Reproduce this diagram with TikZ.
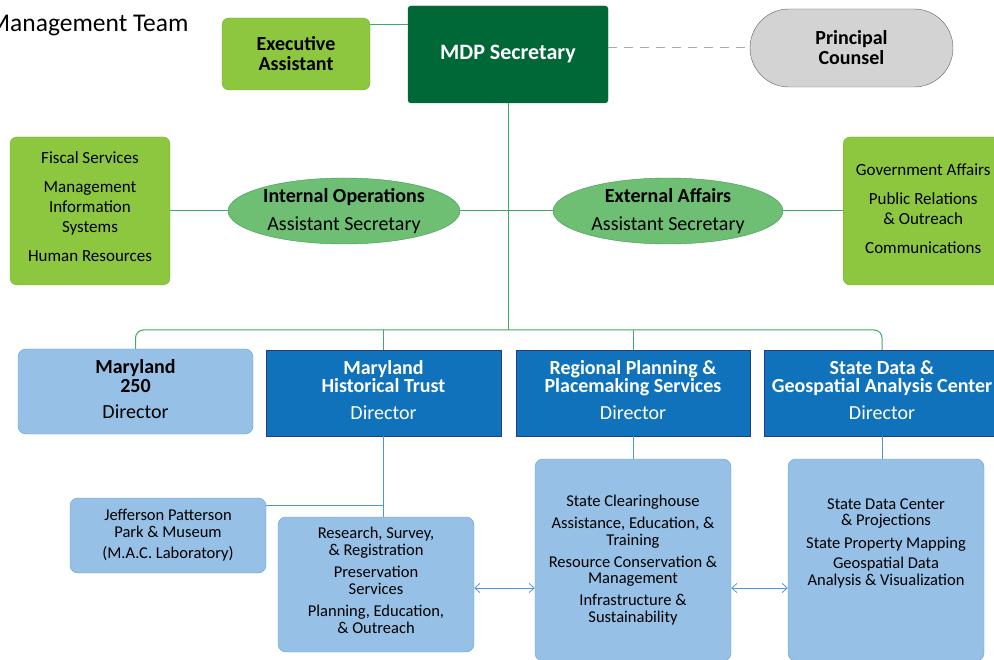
\documentclass[tikz,border=0pt]{standalone}
\usepackage{fontspec}
\setmainfont{Carlito}
\usetikzlibrary{arrows.meta,shapes.geometric,calc}
\definecolor{lgreen}{RGB}{141,198,63}
\definecolor{lgreenline}{RGB}{112,178,52}
\definecolor{dgreen}{RGB}{0,104,55}
\definecolor{egreen}{RGB}{110,190,115}
\definecolor{egreenline}{RGB}{58,158,80}
\definecolor{linkgreen}{RGB}{60,172,100}
\definecolor{pcgray}{RGB}{211,211,211}
\definecolor{pcline}{RGB}{95,95,95}
\definecolor{lblue}{RGB}{150,192,230}
\definecolor{lblueline}{RGB}{92,164,222}
\definecolor{dblue}{RGB}{16,114,186}
\definecolor{dblueline}{RGB}{40,56,140}
\definecolor{linkblue}{RGB}{78,150,212}
\newcommand{\fsz}[2]{\fontsize{#1}{#2}\selectfont}
\begin{document}
\begin{tikzpicture}[x=1pt,y=-1pt,
  font=\fsz{17}{20},
  greenbox/.style={draw=lgreenline,fill=lgreen,rounded corners=7pt,inner sep=0pt,align=center},
  topbox/.style={draw=dgreen,fill=dgreen,rounded corners=3pt,inner sep=0pt,text=white,align=center},
  counselbox/.style={draw=pcline,fill=pcgray,rounded corners=39pt,inner sep=0pt,align=center},
  deputy/.style={ellipse,draw=egreenline,fill=egreen,inner sep=0pt,align=center},
  lightbox/.style={draw=lblueline,fill=lblue,rounded corners=8pt,inner sep=0pt,align=center,font=\fsz{16.5}{16.5}},
  darkbox/.style={draw=dblueline,fill=dblue,inner sep=0pt,text=white,align=center},
  glink/.style={draw=linkgreen,line width=1pt},
  blink/.style={draw=linkblue,line width=1pt},
  swap/.style={linkblue,line width=0.8pt,{Straight Barb[length=5pt,width=9pt]}-{Straight Barb[length=5pt,width=9pt]}}]
\useasboundingbox (0,0) rectangle (994,660);
% Title
\node[anchor=base east,font=\fsz{25.5}{30}] (title) at (192,32) {Management Team};
% Top row
\node[greenbox,minimum width=148pt,minimum height=72pt,font=\bfseries\fsz{20}{20}] (exec) at (296,54)
  {Executive\\Assistant};
\node[topbox,minimum width=200pt,minimum height=97pt,font=\bfseries\fsz{22}{25}] (mdp) at (508,54.5)
  {MDP Secretary};
\node[counselbox,minimum width=203pt,minimum height=78pt,font=\bfseries\fsz{20}{20}] (pc) at (851.5,48)
  {Principal\\Counsel};
\draw[glink] (exec.east |- 0,25) -- (mdp.west |- 0,25);
\draw[draw=pcgray!80!black,line width=1pt,dash pattern=on 9pt off 7pt] (mdp.east |- pc.west) -- (pc.west);
% Assistant secretaries
\node[deputy,minimum width=232pt,minimum height=66pt,font=\fsz{20}{24}] (intops) at (344,211)
  {\textbf{Internal Operations}\\[4pt]Assistant Secretary};
\node[deputy,minimum width=230pt,minimum height=66pt,font=\fsz{20}{24}] (extaff) at (668,211)
  {\textbf{External Affairs}\\[4pt]Assistant Secretary};
\node[greenbox,minimum width=160pt,minimum height=148pt] (fiscal) at (90,211)
  {Fiscal Services\\[9pt]Management\\Information\\Systems\\[9pt]Human Resources\\[-12pt]};
\node[greenbox,minimum width=160pt,minimum height=148pt,anchor=west] (govaff) at (843,211)
  {Government Affairs\\[9pt]Public Relations\\\& Outreach\\[9pt]Communications\\[-16pt]};
\draw[glink] (fiscal.east) -- (intops.west);
\draw[glink] (intops.east) -- (extaff.west);
\draw[glink] (extaff.east) -- (govaff.west);
% Directors
\node[lightbox,minimum width=235pt,minimum height=85pt,font=\fsz{20}{18.5}] (md250) at (135.5,391.5)
  {\textbf{Maryland}\\\textbf{250}\\[8pt]Director\\[-14pt]};
\node[darkbox,minimum width=235pt,minimum height=86pt,font=\fsz{20}{18.5}] (mht) at (383.5,393)
  {\textbf{Maryland}\\\textbf{Historical Trust}\\[8pt]Director\\[-12pt]};
\node[darkbox,minimum width=234pt,minimum height=86pt,font=\fsz{20}{18.5}] (rpps) at (633,393)
  {\textbf{Regional Planning \&}\\\textbf{Placemaking Services}\\[8pt]Director\\[-12pt]};
\node[darkbox,minimum width=236pt,minimum height=86pt,font=\fsz{20}{18.5}] (sdgac) at (882,393)
  {\textbf{State Data \&}\\\textbf{Geospatial Analysis Center}\\[8pt]Director\\[-12pt]};
\coordinate (bus) at (508,330);
\draw[glink] (mdp.south) -- (bus);
\draw[glink,rounded corners=8pt] (md250.north) |- (bus) -| (sdgac.north);
\draw[glink] (mht.north |- bus) -- (mht.north);
\draw[glink] (rpps.north |- bus) -- (rpps.north);
% Programs
\node[lightbox,minimum width=196pt,minimum height=75pt] (jpp) at (168,535.5)
  {Jefferson Patterson\\Park \& Museum\\[5pt](M.A.C. Laboratory)};
\node[lightbox,minimum width=196pt,minimum height=135pt] (research) at (376,584.5)
  {Research, Survey,\\\& Registration\\[6pt]Preservation\\Services\\[6pt]Planning, Education,\\\& Outreach\\[-8pt]};
\node[lightbox,minimum width=196pt,minimum height=202pt] (planprog) at (633,560)
  {State Clearinghouse\\[5.5pt]Assistance, Education, \&\\Training\\[5.5pt]Resource Conservation \&\\Management\\[5.5pt]Infrastructure \&\\Sustainability};
\node[lightbox,minimum width=196pt,minimum height=202pt] (dataprog) at (886,560)
  {State Data Center\\\& Projections\\[6pt]State Property Mapping\\[4pt]Geospatial Data\\Analysis \& Visualization\\[20pt]};
\coordinate (jbranch) at (383.5,505);
\draw[blink] (mht.south) -- (mht.south |- research.north);
\draw[blink] (jbranch) -- (jbranch -| jpp.east);
\draw[blink] (rpps.south) -- (planprog.north);
\draw[blink] (sdgac.south) -- (sdgac.south |- dataprog.north);
\draw[swap] (research.east |- 0,588) -- (planprog.west |- 0,588);
\draw[swap] (planprog.east |- 0,588) -- (dataprog.west |- 0,588);
\end{tikzpicture}
\end{document}
